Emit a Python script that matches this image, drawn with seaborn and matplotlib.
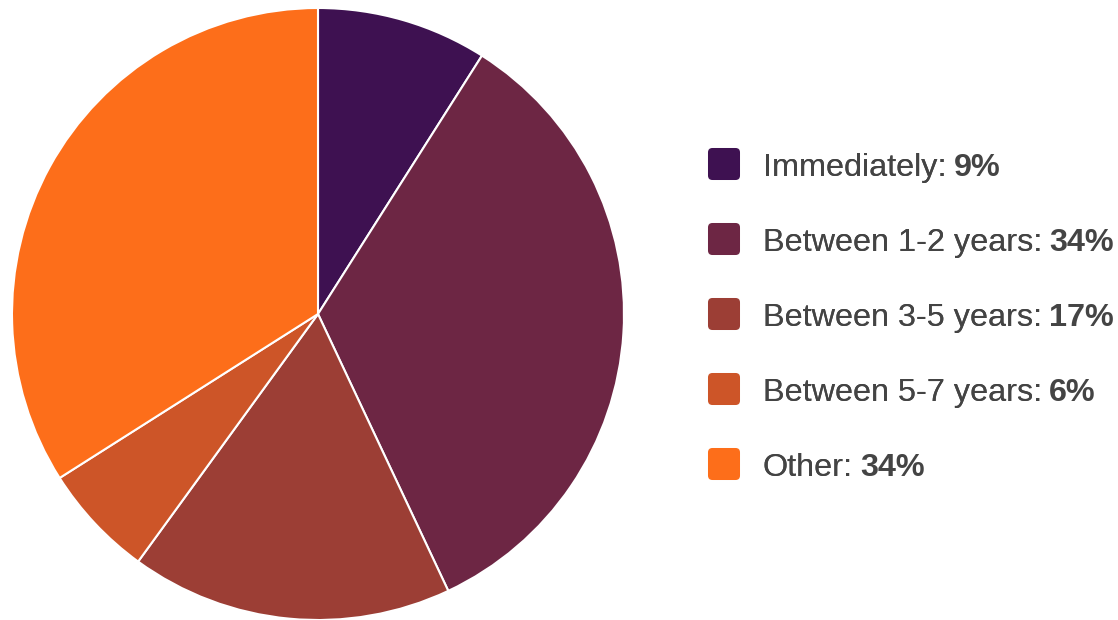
import matplotlib
matplotlib.use("Agg")
import matplotlib.pyplot as plt
import seaborn as sns
from matplotlib.patches import FancyBboxPatch

labels = ["Immediately", "Between 1-2 years", "Between 3-5 years", "Between 5-7 years", "Other"]
shares = [9, 34, 17, 6, 34]
colors = ["#3e1151", "#6d2644", "#9c3e35", "#cd5528", "#fd6e1a"]

sns.set_theme(style="white")
plt.rcParams["font.family"] = ["Liberation Sans", "DejaVu Sans"]

W, H = 1118, 620
fig = plt.figure(figsize=(W / 100, H / 100), dpi=100)

# pie area: center ~ (318, 314) px, radius ~306 px
ax = fig.add_axes([12 / W, 0, 612 / W, 612 / H])
ax.pie(shares, colors=colors, startangle=90, counterclock=False,
       wedgeprops=dict(edgecolor="white", linewidth=1.5))
ax.set_xlim(-1, 1)
ax.set_ylim(-1, 1)
ax.set_aspect("equal")
ax.axis("off")

# legend drawn by hand so the value can be bold
txt_color = "#444444"
y0, step = 164, 75
for i, (lab, val, col) in enumerate(zip(labels, shares, colors)):
    cy = y0 + i * step
    sq = FancyBboxPatch(((708 + 2) / W, 1 - (cy + 14) / H), 28 / W, 28 / H,
                        boxstyle="round,pad=0.0018,rounding_size=0.004",
                        transform=fig.transFigure, facecolor=col, edgecolor="none",
                        mutation_aspect=W / H)
    fig.add_artist(sq)
    t1 = fig.text(763 / W, 1 - (cy + 12) / H, f"{lab}:", fontsize=23.3,
                  color=txt_color, va="baseline", ha="left")
    fig.add_artist(t1)
    ax.annotate(f"{val}%", xy=(1, 0), xycoords=t1, xytext=(5, 0),
                textcoords="offset points", fontsize=23.3, fontweight="bold",
                color=txt_color, va="bottom", ha="left", annotation_clip=False)

fig.savefig("out.png", dpi=100)
